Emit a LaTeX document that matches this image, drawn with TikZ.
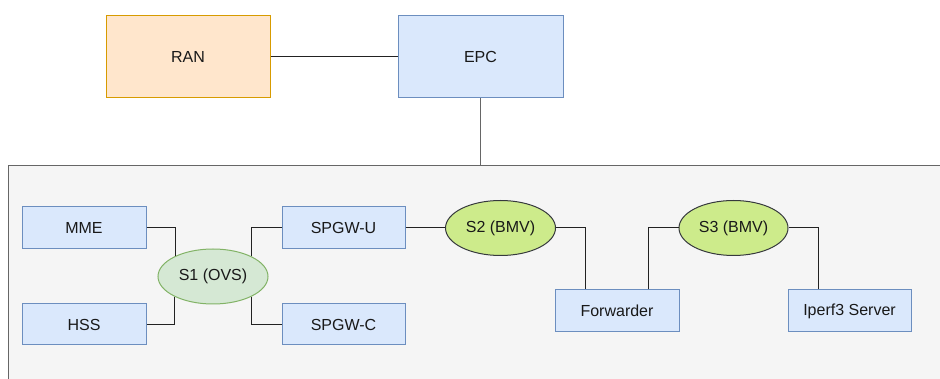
\documentclass[tikz,border=0pt]{standalone}
\usepackage{fontspec}
\setmainfont{Liberation Sans}
\usetikzlibrary{shapes.geometric,calc}
\definecolor{blueFill}{HTML}{DAE8FC}
\definecolor{blueLine}{HTML}{6C8EBF}
\definecolor{orangeFill}{HTML}{FFE6CC}
\definecolor{orangeLine}{HTML}{D79B00}
\definecolor{paleGreen}{HTML}{D5E8D4}
\definecolor{paleGreenLine}{HTML}{82B366}
\definecolor{limeFill}{HTML}{CDEB8B}
\definecolor{limeLine}{HTML}{36393D}
\definecolor{groupFill}{HTML}{F5F5F5}
\definecolor{groupLine}{HTML}{666666}
\definecolor{wire}{HTML}{222222}
\tikzset{
  base/.style={inner sep=0pt, font=\fontsize{16}{19}\selectfont, text=black!90, line width=1pt},
  bluebox/.style={base, rectangle, draw=blueLine, fill=blueFill},
  orangebox/.style={base, rectangle, draw=orangeLine, fill=orangeFill},
  ovs/.style={base, ellipse, draw=paleGreenLine, fill=paleGreen, minimum width=110pt, minimum height=55pt},
  bmv/.style={base, ellipse, draw=limeLine, fill=limeFill, minimum width=110pt, minimum height=55pt},
  groupbox/.style={rectangle, draw=groupLine, fill=groupFill, line width=1pt},
  link/.style={draw=wire, line width=1pt},
}
\begin{document}
\begin{tikzpicture}[x=1pt,y=-1pt]
  \useasboundingbox (0,0) rectangle (940,379);
  \clip (0,0) rectangle (940,379);
  \fill[white] (0,0) rectangle (940,379);

  % core network group
  \node[groupbox, minimum width=952pt, minimum height=234pt] (grp) at (484,283) {};

  % top row
  \node[orangebox, minimum width=164pt, minimum height=82pt] (ran) at (188,57) {RAN};
  \node[bluebox, minimum width=165pt, minimum height=82pt] (epc) at (480.5,57) {EPC};

  % inner nodes
  \node[bluebox, minimum width=124pt, minimum height=42pt] (mme) at (84,228) {MME};
  \node[bluebox, minimum width=124pt, minimum height=41pt] (hss) at (84,324.5) {HSS};
  \node[ovs] (s1) at (213,276.5) {S1 (OVS)};
  \node[bluebox, minimum width=123pt, minimum height=42pt] (spgwu) at (343.5,228) {SPGW-U};
  \node[bluebox, minimum width=123pt, minimum height=41pt] (spgwc) at (343.5,324.5) {SPGW-C};
  \node[bmv] (s2) at (500.5,228) {S2 (BMV)};
  \node[bluebox, minimum width=124pt, minimum height=42pt] (fwd) at (617,311) {Forwarder};
  \node[bmv, minimum width=109pt] (s3) at (733.5,228) {S3 (BMV)};
  \node[bluebox, minimum width=123pt, minimum height=42pt] (iperf) at (849.5,311) {Iperf3 Server};

  % connectors
  \draw[link] (ran.east) -- (epc.west);
  \draw[link, draw=groupLine, line width=1.5pt] (epc.south) -- (epc.south |- grp.north);
  \draw[link] (mme.east) -| (s1.151.7);
  \draw[link] (hss.east) -| (s1.208.3);
  \draw[link] (s1.28.3) |- (spgwu.west);
  \draw[link] (s1.-28.3) |- (spgwc.west);
  \draw[link] (spgwu.east) -- (s2.west);
  \draw[link] (s2.east) -| ($(fwd.north west)!0.25!(fwd.north east)$);
  \draw[link] ($(fwd.north west)!0.75!(fwd.north east)$) |- (s3.west);
  \draw[link] (s3.east) -| ($(iperf.north west)!0.25!(iperf.north east)$);
\end{tikzpicture}
\end{document}
